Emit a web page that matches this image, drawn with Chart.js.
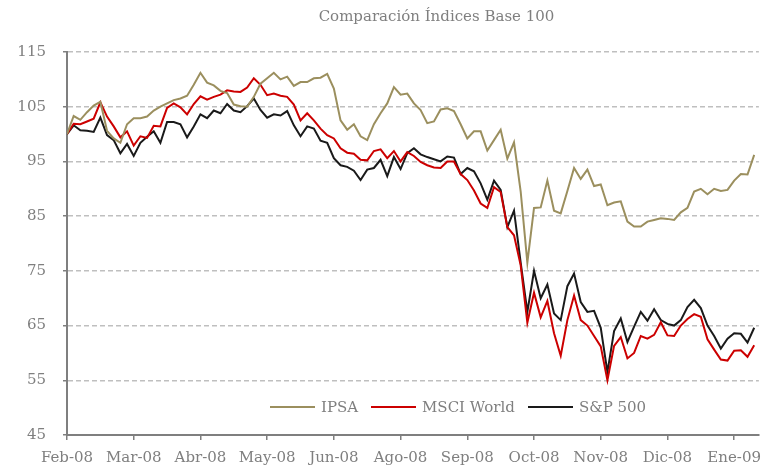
<!DOCTYPE html>
<html>
<head>
<meta charset="utf-8">
<script src="https://cdn.jsdelivr.net/npm/chart.js@4"></script>
<style>
body{margin:0;background:#fff;}
#wrap{position:relative;width:770px;height:472px;font-family:"DejaVu Serif",serif;color:#7f7f7f;}
#title{position:absolute;top:7px;left:103px;right:0;text-align:center;font-size:15px;line-height:18px;}
.leg{position:absolute;top:398px;font-size:15px;line-height:18px;white-space:nowrap;}
.leg i{display:inline-block;width:45px;height:2px;vertical-align:middle;margin-right:6px;margin-top:-2px;}
</style>
</head>
<body>
<div id="wrap">
  <canvas id="chart" width="770" height="472"></canvas>
  <div id="title">Comparación Índices Base 100</div>
  <div class="leg" style="left:270px"><i style="background:#9b8f5e"></i>IPSA</div>
  <div class="leg" style="left:371px"><i style="background:#cc0000"></i>MSCI World</div>
  <div class="leg" style="left:528px"><i style="background:#1a1a1a"></i>S&amp;P 500</div>
</div>
<script>
// month labels, one every 10 points
const months = ['Feb-08', 'Mar-08', 'Abr-08', 'May-08', 'Jun-08', 'Ago-08', 'Sep-08', 'Oct-08', 'Nov-08', 'Dic-08', 'Ene-09'];
const pointsPerMonth = 10;

const ipsa = [
  100.0, 103.3, 102.6, 104.0, 105.2, 105.9, 100.6, 99.2, 98.4, 101.8,
  102.9, 102.9, 103.2, 104.3, 105.0, 105.6, 106.2, 106.5, 107.0, 109.0,
  111.2, 109.4, 108.9, 107.9, 107.5, 105.4, 105.1, 105.0, 106.8, 109.2,
  110.2, 111.2, 110.0, 110.5, 108.8, 109.5, 109.5, 110.2, 110.3, 111.0,
  108.3, 102.5, 100.8, 101.8, 99.6, 98.9, 101.8, 103.8, 105.6, 108.6,
  107.2, 107.4, 105.6, 104.4, 102.0, 102.3, 104.5, 104.7, 104.2, 101.8,
  99.2, 100.5, 100.5, 97.0, 98.9, 100.8, 95.5, 98.5, 89.5, 76.5,
  86.5, 86.6, 91.5, 86.0, 85.5, 89.6, 93.8, 91.8, 93.5, 90.5,
  90.8, 87.0, 87.5, 87.7, 84.0, 83.1, 83.1, 84.0, 84.3, 84.6,
  84.5, 84.3, 85.7, 86.5, 89.5, 90.0, 89.0, 90.0, 89.6, 89.8,
  91.5, 92.7, 92.6, 96.2
];
const msciWorld = [
  100.0, 101.9, 101.8, 102.3, 102.8, 105.8, 103.2, 101.4, 99.4, 100.5,
  97.9, 99.6, 99.3, 101.5, 101.4, 104.8, 105.6, 104.9, 103.6, 105.5,
  106.9, 106.3, 106.8, 107.2, 108.0, 107.8, 107.7, 108.5, 110.2, 109.0,
  107.1, 107.4, 107.0, 106.8, 105.4, 102.5, 103.8, 102.5, 101.0, 99.8,
  99.2, 97.4, 96.6, 96.4, 95.3, 95.2, 96.9, 97.2, 95.6, 96.9,
  95.0, 96.7, 96.0, 94.9, 94.3, 93.9, 93.8, 95.0, 95.0, 92.7,
  91.6, 89.7, 87.3, 86.5, 90.3, 89.4, 83.0, 81.5, 76.0, 65.5,
  71.0, 66.5, 69.5, 63.6, 59.5, 66.0, 70.5, 66.0, 65.0, 63.1,
  61.2, 55.0, 61.3, 62.9, 59.0, 60.0, 63.1, 62.6, 63.3, 65.6,
  63.2, 63.1, 65.0, 66.2, 67.1, 66.6, 62.5, 60.6, 58.8, 58.6,
  60.4, 60.5, 59.3, 61.4
];
const sp500 = [
  100.0, 101.6, 100.7, 100.6, 100.4, 103.0, 99.8, 98.9, 96.5, 98.2,
  96.0, 98.4, 99.5, 100.5, 98.4, 102.2, 102.2, 101.8, 99.4, 101.4,
  103.6, 102.9, 104.3, 103.8, 105.5, 104.3, 104.0, 105.1, 106.5, 104.4,
  103.0, 103.6, 103.4, 104.2, 101.6, 99.6, 101.4, 101.0, 98.8, 98.4,
  95.6, 94.3, 94.0, 93.3, 91.6, 93.5, 93.8, 95.3, 92.3, 95.8,
  93.6, 96.5, 97.4, 96.3, 95.8, 95.4, 95.0, 95.9, 95.7, 92.7,
  93.8, 93.2, 91.0, 88.0, 91.5, 89.8, 83.0, 86.0, 76.5, 67.5,
  75.0, 70.0, 72.5, 67.2, 66.0, 72.2, 74.5, 69.3, 67.5, 67.7,
  64.6, 56.5, 64.0, 66.3, 62.0, 64.8, 67.5, 65.9, 68.0, 66.0,
  65.3, 65.0, 66.0, 68.4, 69.7, 68.2, 65.0, 63.1, 60.8, 62.6,
  63.6, 63.5, 61.9, 64.6
];

const gray = '#7f7f7f';
const font = {family: '"DejaVu Serif", serif', size: 15};
const toPoints = arr => arr.map((v, i) => ({x: i, y: v}));
const line = (label, arr, color) => ({
  label: label,
  data: toPoints(arr),
  borderColor: color,
  backgroundColor: color,
  borderWidth: 2,
  pointRadius: 0,
  tension: 0
});

new Chart(document.getElementById('chart'), {
  type: 'line',
  data: {
    datasets: [
      line('IPSA', ipsa, '#9b8f5e'),
      line('MSCI World', msciWorld, '#cc0000'),
      line('S&P 500', sp500, '#1a1a1a')
    ]
  },
  options: {
    responsive: false,
    animation: false,
    layout: {padding: {top: 52, right: 0, bottom: 0, left: 0}},
    plugins: {
      legend: {display: false},
      title: {display: false},
      tooltip: {enabled: false}
    },
    scales: {
      x: {
        type: 'linear',
        min: 0,
        max: 103.7,
        afterBuildTicks: s => { s.ticks = months.map((m, k) => ({value: k * pointsPerMonth})); },
        afterFit: s => { s.height = 37; },
        ticks: {
          callback: v => months[v / pointsPerMonth],
          color: gray,
          font: font,
          padding: 9,
          maxRotation: 0,
          autoSkip: false
        },
        grid: {drawOnChartArea: false, tickLength: 5, color: gray, lineWidth: 1.5},
        border: {color: gray, width: 2}
      },
      y: {
        min: 45,
        max: 115,
        afterFit: s => { s.width = 67; },
        ticks: {stepSize: 10, color: gray, font: font, padding: 17},
        grid: {color: '#bfbfbf', lineWidth: 1.5, tickLength: 4, tickColor: gray, tickBorderDash: []},
        border: {color: gray, width: 2, dash: [5, 3]}
      }
    }
  }
});
</script>
</body>
</html>
